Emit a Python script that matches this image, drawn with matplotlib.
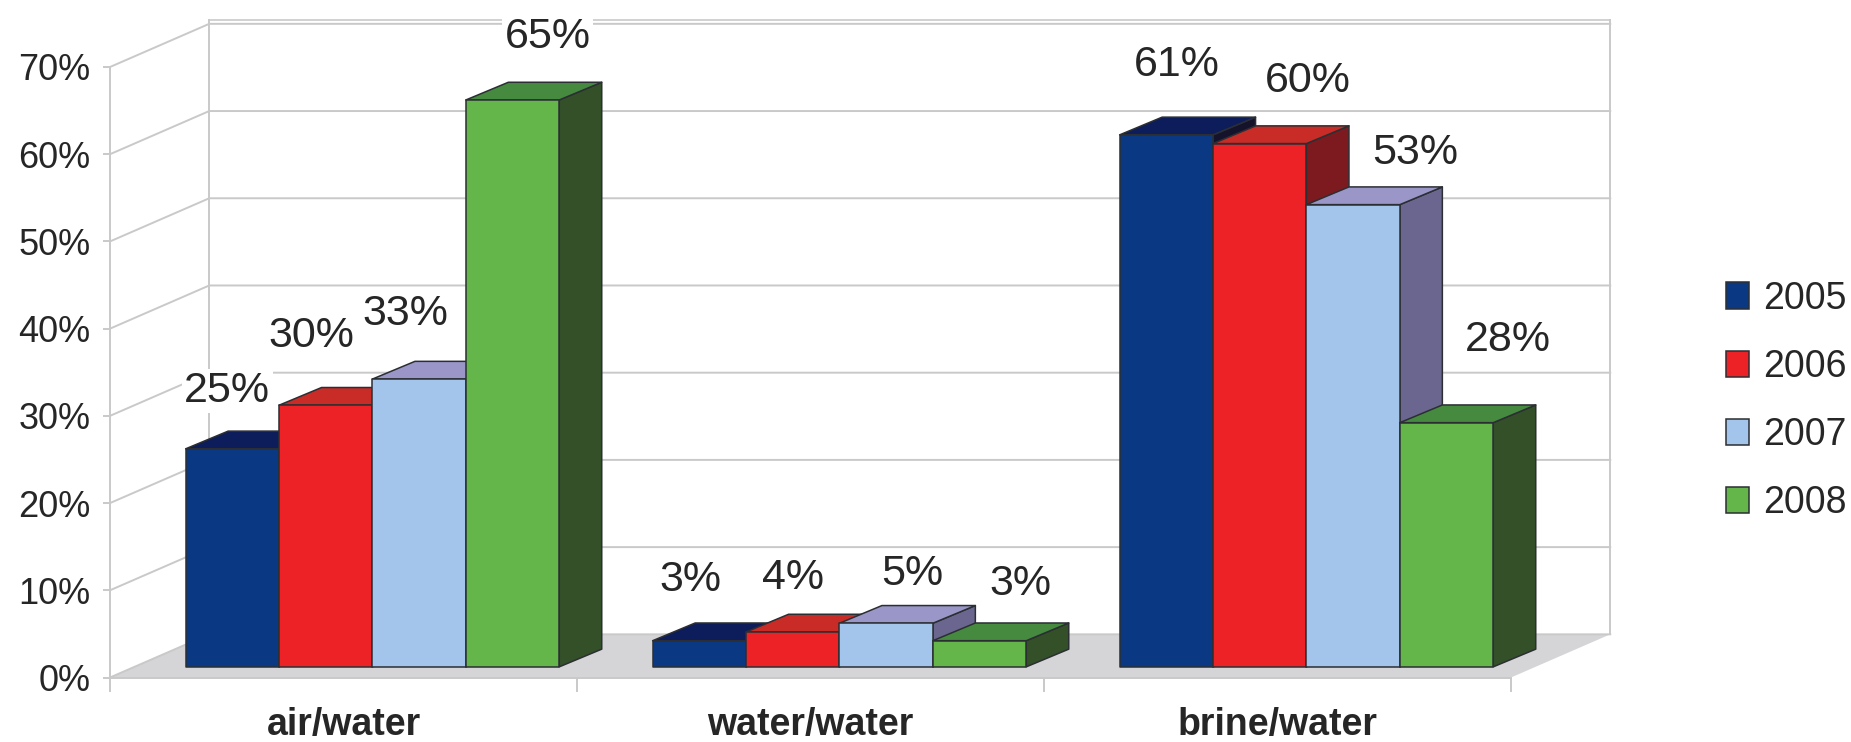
import matplotlib
matplotlib.use('Agg')
import matplotlib.pyplot as plt
from matplotlib.patches import Polygon, Patch

plt.rcParams['font.family'] = ['Liberation Sans', 'DejaVu Sans']

# --- data ---
categories = ['air/water', 'water/water', 'brine/water']
years = ['2005', '2006', '2007', '2008']
values_2005 = [25, 3, 61]
values_2006 = [30, 4, 60]
values_2007 = [33, 5, 53]
values_2008 = [65, 3, 28]
y_ticks = [0, 10, 20, 30, 40, 50, 60, 70]

# --- colours for front, top and side faces ---
front_colors = ['#0a3883', '#ec2227', '#a3c4eb', '#64b64b']
top_colors = ['#0d1c5a', '#c92c27', '#9a97c8', '#468a40']
side_colors = ['#15122c', '#7d1a20', '#6b668f', '#345029']
edge_color = '#2b2f33'
grid_color = '#c9c9c9'
floor_color = '#d5d5d8'
text_color = '#262626'

# --- fake 3D geometry, in axis units ---
wall_dx, wall_dy = 0.2125, 4.95
bar_dx, bar_dy = 0.091, 2.03
bar_width = 0.2
bar_start = 0.162
bar_floor = 1.22

# where each value label sits relative to its bar top, in pixels
label_nudges = [
    [(-5, 58), (-14, 69), (-14, 65), (35, 63)],
    [(-9, 61), (0, 54), (26, 49), (41, 57)],
    [(10, 70), (48, 63), (62, 52), (61, 83)],
]

fig = plt.figure(figsize=(18.51, 7.42), dpi=100)
ax = fig.add_axes([110 / 1851, 1 - 677.5 / 742, 1401 / 1851, 610.5 / 742])
ax.set_xlim(0, 3)
ax.set_ylim(0, 70)
ax.patch.set_visible(False)


def add_poly(points, **kw):
    ax.add_patch(Polygon(points, closed=True, clip_on=False, **kw))


# floor
add_poly([(0, 0), (wall_dx, wall_dy), (3 + wall_dx, wall_dy), (3, 0)],
         facecolor=floor_color, edgecolor='none', zorder=1)

# gridlines on the back and left walls
for t in y_ticks:
    y = t + wall_dy
    ax.plot([0, wall_dx, 3 + wall_dx], [t, y, y], color=grid_color, lw=1.4,
            clip_on=False, zorder=1.5)
ax.plot([wall_dx, 3 + wall_dx], [70.4 + wall_dy] * 2, color=grid_color, lw=1.2,
        clip_on=False, zorder=1.5)
ax.plot([wall_dx, wall_dx], [wall_dy, 70.4 + wall_dy], color=grid_color, lw=1.4,
        clip_on=False, zorder=1.5)
ax.plot([3 + wall_dx, 3 + wall_dx], [wall_dy, 70.4 + wall_dy], color=grid_color,
        lw=1.4, clip_on=False, zorder=1.5)

# bars, painted left to right so later ones cover earlier side faces
series = [values_2005, values_2006, values_2007, values_2008]
for g in range(len(categories)):
    for s in range(len(years)):
        v = series[s][g]
        x0 = g + bar_start + s * bar_width
        x1 = x0 + bar_width
        y0 = bar_floor
        y1 = v + bar_floor
        z = 3 + g * 4 + s
        style = dict(edgecolor=edge_color, linewidth=1.1, joinstyle='round', zorder=z)
        add_poly([(x1, y0), (x1 + bar_dx, y0 + bar_dy), (x1 + bar_dx, y1 + bar_dy), (x1, y1)],
                 facecolor=side_colors[s], **style)
        add_poly([(x0, y1), (x0 + bar_dx, y1 + bar_dy), (x1 + bar_dx, y1 + bar_dy), (x1, y1)],
                 facecolor=top_colors[s], **style)
        add_poly([(x0, y0), (x1, y0), (x1, y1), (x0, y1)],
                 facecolor=front_colors[s], **style)
        ax.annotate(f'{v}%', xy=((x0 + x1) / 2, y1), xytext=label_nudges[g][s],
                    textcoords='offset pixels', ha='center', va='center',
                    fontsize=31, color=text_color, zorder=30, annotation_clip=False,
                    bbox=dict(facecolor='white', edgecolor='none', pad=1.5))

# axes
ax.set_yticks(y_ticks)
ax.set_yticklabels([f'{t}%' for t in y_ticks], fontsize=26, color=text_color)
ax.set_xticks([0, 1, 2, 3])
ax.set_xticklabels([])
ax.set_xticks([0.5, 1.5, 2.5], minor=True)
ax.set_xticklabels(categories, minor=True, fontsize=27, fontweight='bold', color=text_color)
ax.tick_params(axis='x', which='major', length=10, width=1.4, color=grid_color)
ax.tick_params(axis='x', which='minor', length=0, pad=21)
ax.tick_params(axis='y', length=5, width=1.4, color=grid_color, pad=9)
for side in ['top', 'right']:
    ax.spines[side].set_visible(False)
for side in ['left', 'bottom']:
    ax.spines[side].set_color(grid_color)
    ax.spines[side].set_linewidth(1.4)
    ax.spines[side].set_zorder(2)

# legend
handles = [Patch(facecolor=c, edgecolor=edge_color, linewidth=1.1) for c in front_colors]
leg = fig.legend(handles, years, loc='center left', bbox_to_anchor=(1726 / 1851, 1 - 401 / 742),
                 frameon=False, fontsize=27, handlelength=0.6, handleheight=0.7,
                 handletextpad=0.38, labelspacing=0.86, borderpad=0, borderaxespad=0,
                 labelcolor=text_color)

fig.savefig('out.png', dpi=100, facecolor='white')
